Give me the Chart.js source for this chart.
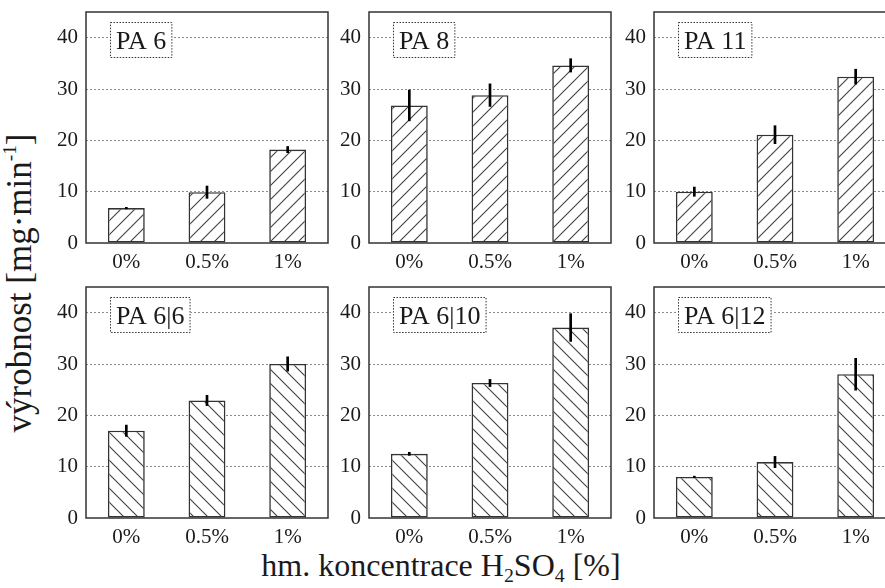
<!DOCTYPE html>
<html>
<head>
<meta charset="utf-8">
<script src="https://cdn.jsdelivr.net/npm/chart.js@4"></script>
<style>
html,body{margin:0;padding:0;background:#fff;}
body{width:885px;height:588px;position:relative;overflow:hidden;font-family:Liberation Serif, serif;color:#1a1a1a;}
canvas.pan{position:absolute;}
#xtitle{position:absolute;left:0;width:882px;top:550px;text-align:center;font-size:32px;line-height:30px;white-space:nowrap;font-family:Liberation Serif, serif;}
#ytitle{position:absolute;left:19px;top:283px;font-size:35px;line-height:35px;white-space:nowrap;transform:translate(-50%,-50%) rotate(-90deg);font-family:Liberation Serif, serif;}
sub{font-size:0.62em;vertical-align:-0.28em;line-height:0;}
sup{font-size:0.55em;vertical-align:0.75em;line-height:0;}
</style>
</head>
<body>
<div id="ytitle">výrobnost [mg·min<sup>-1</sup>]</div>
<div id="xtitle">hm. koncentrace H<sub>2</sub>SO<sub>4</sub> [%]</div>
<script>
// ---- data ----
const categories = ['0%', '0.5%', '1%'];
const panelNames = ['PA 6', 'PA 8', 'PA 11', 'PA 6|6', 'PA 6|10', 'PA 6|12'];
const pa6 = [6.8, 9.9, 18.2];    const pa6Err = [0.15, 1.2, 0.6];
const pa8 = [26.8, 28.8, 34.6];  const pa8Err = [3.0, 2.2, 1.3];
const pa11 = [10.0, 21.1, 32.4]; const pa11Err = [0.9, 1.75, 1.45];
const pa66 = [17.0, 22.9, 30.0]; const pa66Err = [1.1, 1.0, 1.4];
const pa610 = [12.5, 26.3, 37.1]; const pa610Err = [0.3, 0.7, 2.7];
const pa612 = [8.0, 10.9, 28.0]; const pa612Err = [0.15, 1.1, 3.1];
const yTicks = [0, 10, 20, 30, 40];
const yMin = 0, yMax = 45;

const seriesValues = [pa6, pa8, pa11, pa66, pa610, pa612];
const seriesErrors = [pa6Err, pa8Err, pa11Err, pa66Err, pa610Err, pa612Err];

// ---- layout ----
const plotLefts = [86, 369, 654];
const plotTops = [12, 287];
const plotW = 242, plotH = 231;
const axisW = 50, axisH = 40, padTop = 26, padRight = 4;
const FONT = 'Liberation Serif, serif';
Chart.defaults.font.family = FONT;

function hatch(dir) {
  const s = 14;
  const c = document.createElement('canvas');
  c.width = s; c.height = s;
  const g = c.getContext('2d');
  g.fillStyle = '#fff';
  g.fillRect(0, 0, s, s);
  g.strokeStyle = '#404040';
  g.lineWidth = 1.1;
  g.beginPath();
  if (dir === '/') {
    g.moveTo(0, s); g.lineTo(s, 0);
    g.moveTo(-1, 1); g.lineTo(1, -1);
    g.moveTo(s - 1, s + 1); g.lineTo(s + 1, s - 1);
  } else {
    g.moveTo(0, 0); g.lineTo(s, s);
    g.moveTo(s - 1, -1); g.lineTo(s + 1, 1);
    g.moveTo(-1, s - 1); g.lineTo(1, s + 1);
  }
  g.stroke();
  return g.createPattern(c, 'repeat');
}

const framePlugin = {
  id: 'frameAndLabel',
  afterDraw(chart, args, opts) {
    const a = chart.chartArea;
    const ctx = chart.ctx;
    ctx.save();
    ctx.strokeStyle = '#333';
    ctx.lineWidth = 1.5;
    ctx.setLineDash([]);
    ctx.strokeRect(a.left, a.top, a.right - a.left, a.bottom - a.top);
    ctx.font = '26px ' + FONT;
    const tw = ctx.measureText(opts.label).width;
    const bx = a.left + 24, by = a.top + 10, bw = tw + 12, bh = 36;
    ctx.fillStyle = '#fff';
    ctx.fillRect(bx, by, bw, bh);
    ctx.strokeStyle = '#333';
    ctx.lineWidth = 1;
    ctx.setLineDash([1.5, 1.5]);
    ctx.strokeRect(bx + 0.5, by + 0.5, bw - 1, bh - 1);
    ctx.setLineDash([]);
    ctx.fillStyle = '#1a1a1a';
    ctx.textBaseline = 'alphabetic';
    ctx.textAlign = 'left';
    ctx.fillText(opts.label, bx + 6, by + 27);
    ctx.restore();
  }
};

for (let i = 0; i < 6; i++) {
  const row = Math.floor(i / 3), col = i % 3;
  const cv = document.createElement('canvas');
  cv.className = 'pan';
  const W = axisW + plotW + padRight, H = padTop + plotH + axisH;
  cv.width = W; cv.height = H;
  cv.style.width = W + 'px'; cv.style.height = H + 'px';
  cv.style.left = (plotLefts[col] - axisW) + 'px';
  cv.style.top = (plotTops[row] - padTop) + 'px';
  document.body.appendChild(cv);

  const vals = seriesValues[i], errs = seriesErrors[i];
  new Chart(cv, {
    type: 'bar',
    data: {
      labels: categories,
      datasets: [
        {
          data: vals.map((v, k) => [v - errs[k], v + errs[k]]),
          backgroundColor: '#000',
          borderWidth: 0,
          barThickness: 2,
          grouped: false,
          order: 0
        },
        {
          data: vals,
          backgroundColor: hatch(row === 0 ? '/' : '\\'),
          borderColor: '#333',
          borderWidth: 1.6,
          borderSkipped: false,
          categoryPercentage: 1,
          barPercentage: 0.457,
          grouped: false,
          order: 1
        }
      ]
    },
    options: {
      responsive: false,
      animation: false,
      devicePixelRatio: 1,
      layout: { padding: { top: padTop, right: padRight, left: 0, bottom: 0 } },
      plugins: {
        legend: { display: false },
        tooltip: { enabled: false },
        frameAndLabel: { label: panelNames[i] }
      },
      scales: {
        x: {
          offset: true,
          grid: { display: false, drawTicks: false },
          border: { display: false },
          ticks: { color: '#1a1a1a', font: { family: FONT, size: 21 }, padding: 7, maxRotation: 0 },
          afterFit(s) { s.height = axisH; }
        },
        y: {
          min: yMin, max: yMax,
          afterBuildTicks(s) { s.ticks = yTicks.map(v => ({ value: v })); },
          grid: {
            drawTicks: false,
            color: ctx => (ctx.tick && ctx.tick.value > 0) ? '#8a8a8a' : 'rgba(0,0,0,0)',
            lineWidth: 1
          },
          border: { display: false, dash: [2, 2] },
          ticks: { color: '#1a1a1a', font: { family: FONT, size: 21 }, padding: 8 },
          afterFit(s) { s.width = axisW; }
        }
      }
    },
    plugins: [framePlugin]
  });
}
</script>
</body>
</html>
